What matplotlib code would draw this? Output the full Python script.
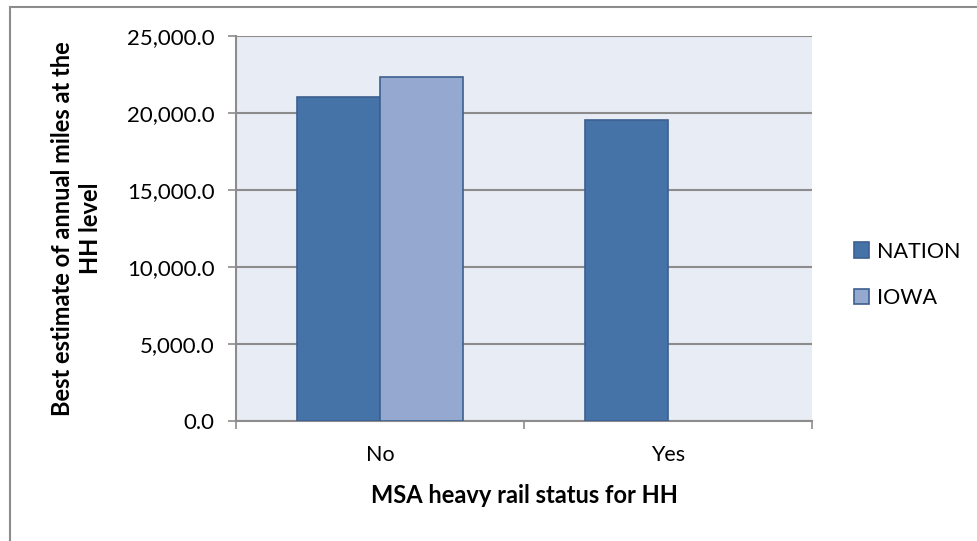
import matplotlib
matplotlib.use("Agg")
import matplotlib.pyplot as plt
from matplotlib.patches import Rectangle
import numpy as np

# annual miles per household, by MSA heavy rail status
categories = ["No", "Yes"]
nation = [21000.0, 19500.0]
iowa = [22300.0, np.nan]   # no Iowa households in a heavy rail MSA
series_names = ["NATION", "IOWA"]
yticks = [0, 5000, 10000, 15000, 20000, 25000]

plt.rcParams['font.family'] = ['Lato', 'DejaVu Sans']

fig = plt.figure(figsize=(9.77, 5.41), dpi=100)
fig.patch.set_facecolor("white")

# outer chart frame (top and left edges show)
fig.patches.append(Rectangle((9.5 / 977, -0.05), 1.1, 1 - 6.5 / 541 + 0.05,
                             transform=fig.transFigure, fill=False,
                             edgecolor="#8c8c8c", linewidth=1.5))

ax = fig.add_axes([236 / 977, 1 - 421 / 541, 576 / 977, 385.3 / 541])
ax.set_facecolor("#e8ecf4")

x = np.arange(len(categories))
w = 0.2875
edge = "#3d5f8f"
ax.bar(x - w / 2, nation, w, color="#4572a7", edgecolor=edge, linewidth=1.2,
       label=series_names[0], zorder=3)
ax.bar(x + w / 2, iowa, w, color="#95a9d0", edgecolor=edge, linewidth=1.2,
       label=series_names[1], zorder=3)

ax.set_xlim(-0.5, 1.5)
ax.set_ylim(0, 25000)
ax.set_yticks(yticks)
ax.set_yticklabels(["{:,.1f}".format(v) for v in yticks])
ax.yaxis.grid(True, color="#8c8c8c", linewidth=1.5, zorder=1)
ax.set_axisbelow(True)

# category labels sit between the boundary ticks
ax.set_xticks([-0.5, 0.5, 1.5])
ax.set_xticklabels([])
ax.set_xticks(x, minor=True)
ax.set_xticklabels(categories, minor=True)
ax.tick_params(axis="x", which="minor", length=0, labelsize=15.5, pad=17)
ax.tick_params(axis="x", which="major", length=6, width=1.2, color="#8c8c8c")
ax.tick_params(axis="y", length=6, width=1.2, color="#8c8c8c", labelsize=16, pad=9.5)

for side in ["top", "right"]:
    ax.spines[side].set_visible(False)
for side in ["left", "bottom"]:
    ax.spines[side].set_color("#8c8c8c")
    ax.spines[side].set_linewidth(1.5)

ax.set_xlabel("MSA heavy rail status for HH", fontsize=17, fontweight="bold",
              labelpad=14)
ax.set_ylabel("Best estimate of annual miles at the\nHH level", fontsize=17,
              fontweight="bold", linespacing=1.3)
ax.yaxis.set_label_coords(-0.232, 0.5)

fig.legend(loc="center left", bbox_to_anchor=(835 / 977, 1 - 275 / 541),
           frameon=False, fontsize=15.5, handlelength=0.7, handleheight=0.7,
           handletextpad=0.35, labelspacing=1.25)

fig.savefig("out.png", dpi=100, facecolor="white")
